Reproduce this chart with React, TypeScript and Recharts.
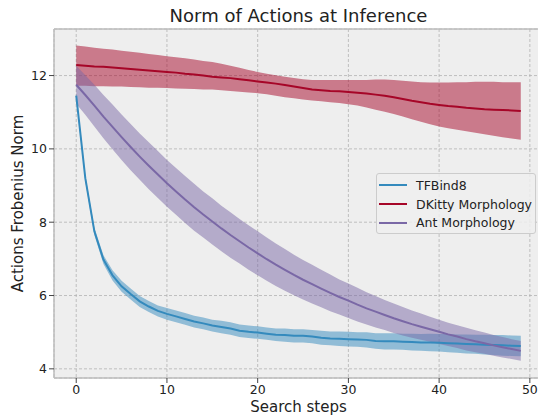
import React from 'react';
import { ComposedChart, Area, Line, XAxis, YAxis, CartesianGrid, ReferenceLine } from 'recharts';

const FONT = '"DejaVu Sans", sans-serif';

const steps = [0,1,2,3,4,5,6,7,8,9,10,11,12,13,14,15,16,17,18,19,20,21,22,23,24,25,26,27,28,29,30,31,32,33,34,35,36,37,38,39,40,41,42,43,44,45,46,47,48,49];

// TFBind8
const tfMean = [11.45,9.20,7.75,6.98,6.55,6.25,6.04,5.84,5.70,5.58,5.50,5.43,5.36,5.29,5.24,5.18,5.14,5.10,5.04,5.01,4.99,4.96,4.93,4.92,4.90,4.90,4.88,4.85,4.83,4.82,4.81,4.80,4.79,4.76,4.75,4.75,4.74,4.73,4.72,4.72,4.71,4.70,4.69,4.68,4.67,4.66,4.65,4.64,4.63,4.62];
const tfHigh = [11.51,9.28,7.85,7.10,6.69,6.40,6.19,5.99,5.85,5.73,5.66,5.59,5.52,5.45,5.40,5.34,5.31,5.27,5.21,5.18,5.16,5.13,5.10,5.10,5.08,5.08,5.06,5.04,5.02,5.02,5.01,5.00,5.00,4.97,4.97,4.97,4.96,4.96,4.95,4.96,4.95,4.95,4.94,4.94,4.93,4.93,4.92,4.92,4.91,4.90];
const tfLow = [11.39,9.12,7.65,6.86,6.41,6.10,5.89,5.69,5.55,5.43,5.34,5.27,5.20,5.13,5.08,5.02,4.97,4.93,4.87,4.84,4.82,4.79,4.76,4.74,4.72,4.72,4.70,4.66,4.64,4.62,4.61,4.60,4.58,4.55,4.53,4.53,4.52,4.50,4.49,4.48,4.47,4.45,4.44,4.42,4.41,4.39,4.38,4.36,4.35,4.34];

// DKitty Morphology
const dkMean = [12.29,12.27,12.25,12.24,12.22,12.20,12.18,12.16,12.14,12.12,12.10,12.08,12.05,12.03,12.00,11.97,11.95,11.93,11.90,11.87,11.84,11.81,11.78,11.74,11.70,11.66,11.62,11.60,11.58,11.57,11.55,11.53,11.51,11.48,11.45,11.41,11.36,11.31,11.27,11.23,11.20,11.17,11.15,11.12,11.10,11.08,11.07,11.06,11.05,11.03];
const dkHigh = [12.82,12.79,12.76,12.73,12.71,12.68,12.65,12.62,12.59,12.56,12.53,12.50,12.47,12.44,12.40,12.37,12.32,12.27,12.21,12.15,12.10,12.05,12.01,11.97,11.93,11.90,11.88,11.88,11.88,11.88,11.88,11.88,11.88,11.89,11.89,11.88,11.86,11.84,11.82,11.81,11.81,11.81,11.82,11.82,11.83,11.83,11.83,11.82,11.82,11.82];
const dkLow = [11.72,11.72,11.71,11.71,11.70,11.70,11.69,11.68,11.67,11.67,11.66,11.65,11.64,11.63,11.62,11.62,11.60,11.58,11.56,11.54,11.52,11.49,11.45,11.41,11.38,11.35,11.32,11.30,11.27,11.25,11.22,11.18,11.13,11.07,11.01,10.95,10.88,10.81,10.74,10.67,10.61,10.56,10.52,10.48,10.44,10.40,10.36,10.32,10.28,10.25];

// Ant Morphology
const antMean = [11.75,11.47,11.18,10.88,10.60,10.32,10.05,9.79,9.54,9.30,9.06,8.84,8.62,8.41,8.21,8.02,7.83,7.65,7.48,7.31,7.15,6.99,6.84,6.70,6.56,6.43,6.31,6.19,6.07,5.96,5.86,5.75,5.65,5.56,5.47,5.38,5.30,5.22,5.15,5.08,5.01,4.94,4.88,4.81,4.75,4.70,4.64,4.59,4.54,4.49];
const antHigh = [12.27,12.01,11.75,11.47,11.21,10.94,10.68,10.42,10.18,9.94,9.70,9.48,9.26,9.05,8.84,8.65,8.45,8.27,8.09,7.92,7.75,7.58,7.42,7.27,7.11,6.97,6.84,6.70,6.57,6.44,6.33,6.21,6.09,5.99,5.88,5.78,5.69,5.59,5.51,5.42,5.34,5.26,5.19,5.12,5.05,4.99,4.92,4.87,4.81,4.76];
const antLow = [11.23,10.93,10.61,10.29,9.99,9.70,9.42,9.16,8.90,8.66,8.42,8.20,7.98,7.77,7.58,7.39,7.21,7.03,6.87,6.70,6.55,6.40,6.26,6.13,6.01,5.89,5.78,5.68,5.57,5.48,5.39,5.29,5.21,5.13,5.06,4.98,4.91,4.85,4.79,4.74,4.68,4.62,4.57,4.50,4.45,4.41,4.36,4.31,4.27,4.22];

const seriesNames = ['TFBind8', 'DKitty Morphology', 'Ant Morphology'];
const seriesColors = ['#348ABD', '#A60628', '#7A68A6'];

const xTicks = [0, 10, 20, 30, 40, 50];
const yTicks = [4, 6, 8, 10, 12];

const titleText = 'Norm of Actions at Inference';
const xLabelText = 'Search steps';
const yLabelText = 'Actions Frobenius Norm';

const data = steps.map((s, i) => ({
  step: s,
  tf: tfMean[i],
  tfBand: [tfLow[i], tfHigh[i]],
  dk: dkMean[i],
  dkBand: [dkLow[i], dkHigh[i]],
  ant: antMean[i],
  antBand: [antLow[i], antHigh[i]],
}));

const XLabel = (props: any) => {
  const vb = props.viewBox || {};
  return (
    <text x={vb.x + vb.width / 2} y={vb.y + vb.height} textAnchor="middle" fontSize={15} fill="#222" fontFamily={FONT}>
      {xLabelText}
    </text>
  );
};

const YLabel = (props: any) => {
  const vb = props.viewBox || {};
  const cx = vb.x + 23;
  const cy = vb.y + vb.height / 2;
  return (
    <text x={cx} y={cy} transform={`rotate(-90, ${cx}, ${cy})`} textAnchor="middle" fontSize={15} fill="#222" fontFamily={FONT}>
      {yLabelText}
    </text>
  );
};

export default function App() {
  const tickStyle = { fontSize: 12.5, fill: '#222', fontFamily: FONT };
  return (
    <div style={{ position: 'fixed', left: 0, top: 0, width: 538, height: 415, overflow: 'hidden', background: '#fff', fontFamily: FONT }}>
      <div style={{ position: 'absolute', left: 0, top: 6, width: 597, textAlign: 'center', fontSize: 18, lineHeight: '20px', color: '#222', fontFamily: FONT, whiteSpace: 'nowrap' }}>
        {titleText}
      </div>
      <div style={{ position: 'absolute', left: 0, top: 0 }}>
        <ComposedChart width={560} height={415} data={data} margin={{ top: 29, right: 17, bottom: 3, left: 0 }}>
          <CartesianGrid fill="#eeeeee" fillOpacity={1} stroke="#b2b2b2" strokeDasharray="3 2" strokeWidth={0.8} />
          <XAxis
            dataKey="step"
            type="number"
            domain={[-2.45, 51.45]}
            ticks={xTicks}
            allowDataOverflow
            height={34}
            tick={tickStyle}
            tickSize={5}
            tickMargin={2}
            tickLine={{ stroke: '#444' }}
            axisLine={{ stroke: '#bcbcbc', strokeWidth: 1.5 }}
            label={XLabel}
          />
          <YAxis
            type="number"
            domain={[3.75, 13.27]}
            ticks={yTicks}
            allowDataOverflow
            width={54}
            tick={tickStyle}
            tickSize={5}
            tickMargin={2}
            tickLine={{ stroke: '#444' }}
            axisLine={{ stroke: '#bcbcbc', strokeWidth: 1.5 }}
            label={YLabel}
          />
          <ReferenceLine y={13.27} stroke="#bcbcbc" strokeWidth={1.5} ifOverflow="visible" />
          <Area type="linear" dataKey="tfBand" stroke="none" fill={seriesColors[0]} fillOpacity={0.5} isAnimationActive={false} activeDot={false} />
          <Line type="linear" dataKey="tf" stroke={seriesColors[0]} strokeWidth={2} dot={false} isAnimationActive={false} />
          <Area type="linear" dataKey="dkBand" stroke="none" fill={seriesColors[1]} fillOpacity={0.5} isAnimationActive={false} activeDot={false} />
          <Line type="linear" dataKey="dk" stroke={seriesColors[1]} strokeWidth={2} dot={false} isAnimationActive={false} />
          <Area type="linear" dataKey="antBand" stroke="none" fill={seriesColors[2]} fillOpacity={0.5} isAnimationActive={false} activeDot={false} />
          <Line type="linear" dataKey="ant" stroke={seriesColors[2]} strokeWidth={2} dot={false} isAnimationActive={false} />
        </ComposedChart>
      </div>
      <div style={{ position: 'absolute', left: 376, top: 173, width: 160, height: 61, boxSizing: 'border-box', border: '1px solid #cccccc', borderRadius: 3, background: 'rgba(238,238,238,0.85)', padding: '2px 0 0 0' }}>
        {seriesNames.map((name, i) => (
          <div key={name} style={{ display: 'flex', alignItems: 'center', height: 18.7 }}>
            <div style={{ marginLeft: 2, width: 28, height: 2, background: seriesColors[i] }} />
            <span style={{ marginLeft: 9, fontSize: 12.5, color: '#222', fontFamily: FONT, whiteSpace: 'nowrap' }}>{name}</span>
          </div>
        ))}
      </div>
    </div>
  );
}
